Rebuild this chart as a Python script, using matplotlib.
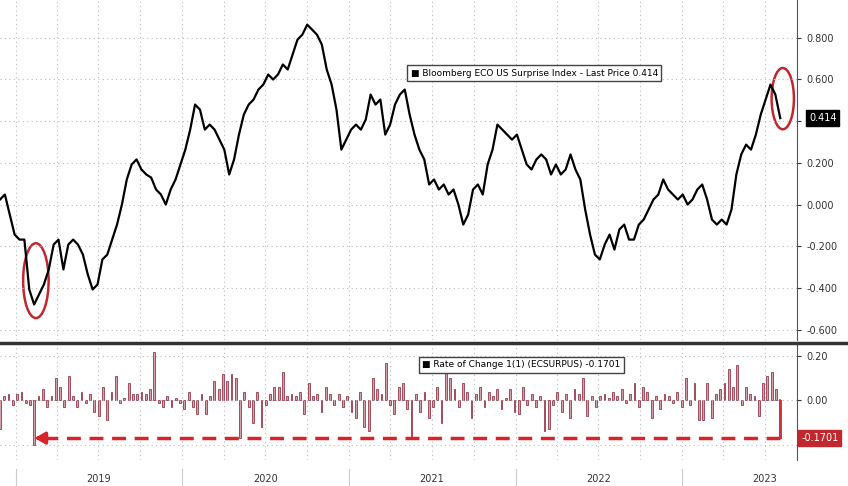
import numpy as np
import pandas as pd
import matplotlib.pyplot as plt
import matplotlib.dates as mdates
from matplotlib.patches import Ellipse

# Bloomberg ECO US Surprise Index (approx. every ~1.5 weeks)
surprise = [0.024, 0.048, -0.048, -0.144, -0.168, -0.168, -0.407, -0.479, -0.431, -0.383,
            -0.311, -0.192, -0.168, -0.311, -0.192, -0.168, -0.192, -0.240, -0.335, -0.407,
            -0.383, -0.263, -0.240, -0.168, -0.096, 0.0, 0.12, 0.192, 0.216, 0.168,
            0.144, 0.129, 0.072, 0.048, 0.0, 0.072, 0.12, 0.192, 0.263, 0.359,
            0.479, 0.455, 0.359, 0.383, 0.359, 0.311, 0.263, 0.144, 0.216, 0.335,
            0.431, 0.479, 0.503, 0.551, 0.575, 0.623, 0.599, 0.623, 0.671, 0.647,
            0.719, 0.790, 0.814, 0.862, 0.838, 0.814, 0.766, 0.647, 0.575, 0.455,
            0.263, 0.311, 0.359, 0.383, 0.359, 0.407, 0.527, 0.479, 0.503, 0.335,
            0.383, 0.479, 0.527, 0.551, 0.431, 0.335, 0.263, 0.216, 0.096, 0.12,
            0.072, 0.096, 0.048, 0.072, 0.0, -0.096, -0.048, 0.072, 0.096, 0.048,
            0.192, 0.263, 0.383, 0.359, 0.335, 0.311, 0.335, 0.263, 0.192, 0.168,
            0.216, 0.240, 0.216, 0.144, 0.192, 0.144, 0.168, 0.240, 0.168, 0.12,
            -0.024, -0.144, -0.240, -0.263, -0.192, -0.144, -0.216, -0.120, -0.096, -0.168,
            -0.168, -0.096, -0.072, -0.024, 0.024, 0.048, 0.120, 0.072, 0.048, 0.024,
            0.048, 0.0, 0.024, 0.072, 0.096, 0.024, -0.072, -0.096, -0.072, -0.096,
            -0.024, 0.144, 0.240, 0.287, 0.263, 0.335, 0.431, 0.503, 0.575, 0.527,
            0.414]

# Rate of change 1(1), weekly-ish
roc = [-0.13, 0.02, 0.03, -0.02, 0.03, 0.04, -0.01, -0.02, -0.20, 0.02, 0.05, -0.03, 0.02, 0.10,
       0.06, -0.03, 0.11, 0.02, -0.03, 0.04, -0.01, 0.03, -0.05, -0.07, 0.06, -0.09, 0.04, 0.11,
       -0.01, 0.01, 0.08, 0.03, 0.03, 0.04, 0.03, 0.05, 0.22, -0.01, -0.03, 0.02, -0.03, 0.01,
       -0.01, -0.04, 0.04, -0.03, -0.06, 0.03, -0.06, 0.02, 0.09, 0.05, 0.12, 0.09, 0.12, 0.10,
       -0.17, 0.04, -0.03, -0.10, 0.04, -0.12, -0.02, 0.03, 0.06, 0.06, 0.13, 0.02, 0.03, 0.02,
       0.04, -0.06, 0.08, 0.02, 0.03, -0.05, 0.06, 0.03, -0.02, 0.03, -0.03, 0.02, -0.05, -0.08,
       0.04, -0.12, -0.14, 0.10, 0.05, 0.03, 0.17, -0.02, -0.06, 0.06, 0.08, -0.04, -0.17, 0.03,
       -0.05, 0.04, -0.08, -0.03, 0.06, -0.10, 0.13, 0.10, 0.05, -0.03, 0.08, 0.04, -0.08, 0.03,
       0.06, -0.03, 0.04, 0.02, 0.05, -0.04, 0.01, 0.05, -0.05, -0.06, 0.06, -0.02, 0.03, -0.03,
       0.02, -0.14, -0.13, -0.02, 0.04, -0.05, 0.03, -0.08, 0.05, 0.03, 0.10, -0.07, 0.02, -0.03,
       0.02, 0.03, 0.01, 0.04, 0.02, 0.05, -0.01, 0.03, 0.08, -0.03, 0.06, 0.04, -0.08, 0.02,
       -0.04, 0.03, 0.02, -0.01, 0.04, -0.03, 0.10, -0.02, 0.08, -0.09, -0.09, 0.08, -0.08, 0.03,
       0.05, 0.08, 0.14, 0.06, 0.16, -0.02, 0.06, 0.03, 0.02, -0.07, 0.08, 0.11, 0.13, 0.05,
       -0.1701]

line_dates = pd.date_range("2018-11-27", "2023-08-04", periods=len(surprise))
bar_dates = pd.date_range("2018-11-27", "2023-08-04", periods=len(roc))
years = [2019, 2020, 2021, 2022, 2023]

fig = plt.figure(figsize=(8.48, 4.86), dpi=100)
ax = fig.add_axes([0.0, 0.30, 0.94, 0.70])
ax2 = fig.add_axes([0.0, 0.053, 0.94, 0.237], sharex=ax)

xmin = mdates.date2num(pd.Timestamp("2018-11-27"))
xmax = mdates.date2num(pd.Timestamp("2023-09-10"))

ax.plot(line_dates, surprise, color="black", lw=1.6)
ax.set_ylim(-0.65, 0.98)
ax.set_yticks([-0.6, -0.4, -0.2, 0.0, 0.2, 0.4, 0.6, 0.8])
ax.set_yticklabels(["-0.600", "-0.400", "-0.200", "0.000", "0.200", "", "0.600", "0.800"])

ax2.bar(bar_dates, roc, width=4, color="#d4a0aa", edgecolor="#943a4c", linewidth=0.6)
ax2.set_ylim(-0.27, 0.25)
ax2.set_yticks([-0.2, 0.0, 0.2])
ax2.set_yticklabels(["", "0.00", "0.20"])

quarters = pd.date_range("2018-10-01", "2023-10-01", freq="QS")
for a in (ax, ax2):
    a.set_xlim(xmin, xmax)
    a.yaxis.tick_right()
    a.tick_params(axis="y", labelsize=7, length=3, color="#333333", labelcolor="#333333")
    a.tick_params(axis="x", length=0, labelbottom=False)
    a.grid(axis="y", color="#bbbbbb", ls=(0, (1, 3)), lw=0.8)
    for q in quarters:
        a.axvline(q, color="#bbbbbb", ls=(0, (1, 3)), lw=0.8, zorder=0)
    for s in ("top", "left"):
        a.spines[s].set_visible(False)
    a.spines["right"].set_color("#555555")
    a.spines["bottom"].set_visible(False)

# thick separator across the whole width
fig.add_artist(plt.Line2D([0, 1], [0.295, 0.295], color="#333333", lw=2.5))

# year labels and separators
for y in years:
    mid = mdates.date2num(pd.Timestamp(f"{y}-07-01"))
    if mid < xmax:
        ax2.text(mid, -0.355, str(y), ha="center", va="center", fontsize=7, color="#333333")
    ax2.plot([pd.Timestamp(f"{y}-01-01")] * 2, [-0.31, -0.40], color="#cccccc", lw=0.8, clip_on=False)

# legends
ax.text(0.515, 0.785, "\u25a0 Bloomberg ECO US Surprise Index - Last Price 0.414", transform=ax.transAxes,
        fontsize=6.5, va="center", ha="left",
        bbox=dict(boxstyle="square,pad=0.4", fc="white", ec="#444444", lw=1))
ax2.text(0.53, 0.83, "\u25a0 Rate of Change 1(1) (ECSURPUS) -0.1701", transform=ax2.transAxes,
         fontsize=6.5, va="center", ha="left",
         bbox=dict(boxstyle="square,pad=0.4", fc="white", ec="#444444", lw=1))

# last value tags
ax.text(1.015, 0.414, "0.414", transform=ax.get_yaxis_transform(), fontsize=7, color="white",
        va="center", ha="left", bbox=dict(boxstyle="square,pad=0.3", fc="black", ec="black"))
ax2.text(1.005, -0.1701, "-0.1701", transform=ax2.get_yaxis_transform(), fontsize=7, color="white",
         va="center", ha="left", bbox=dict(boxstyle="square,pad=0.3", fc="#c0282d", ec="#c0282d"))

# red circles
ax.add_patch(Ellipse((0.045, 0.175), 0.032, 0.22, transform=ax.transAxes, fill=False,
                     ec="#c0282d", lw=1.8))
ax.add_patch(Ellipse((0.982, 0.71), 0.028, 0.18, transform=ax.transAxes, fill=False,
                     ec="#c0282d", lw=1.8))

# red dashed arrow
x_end = mdates.date2num(bar_dates[-1])
x_start = mdates.date2num(pd.Timestamp("2019-02-05"))
ax2.plot([x_end, x_end], [0, -0.1701], color="#d8232a", lw=1.2)
ax2.plot([x_end, x_start + 20], [-0.1701, -0.1701], color="#d8232a", lw=2.5, ls=(0, (4, 2.5)))
ax2.annotate("", xy=(x_start, -0.1701), xytext=(x_start + 25, -0.1701),
             arrowprops=dict(arrowstyle="-|>,head_length=0.6,head_width=0.35", color="#d8232a", lw=2.5))

fig.savefig("out.png", dpi=100)
